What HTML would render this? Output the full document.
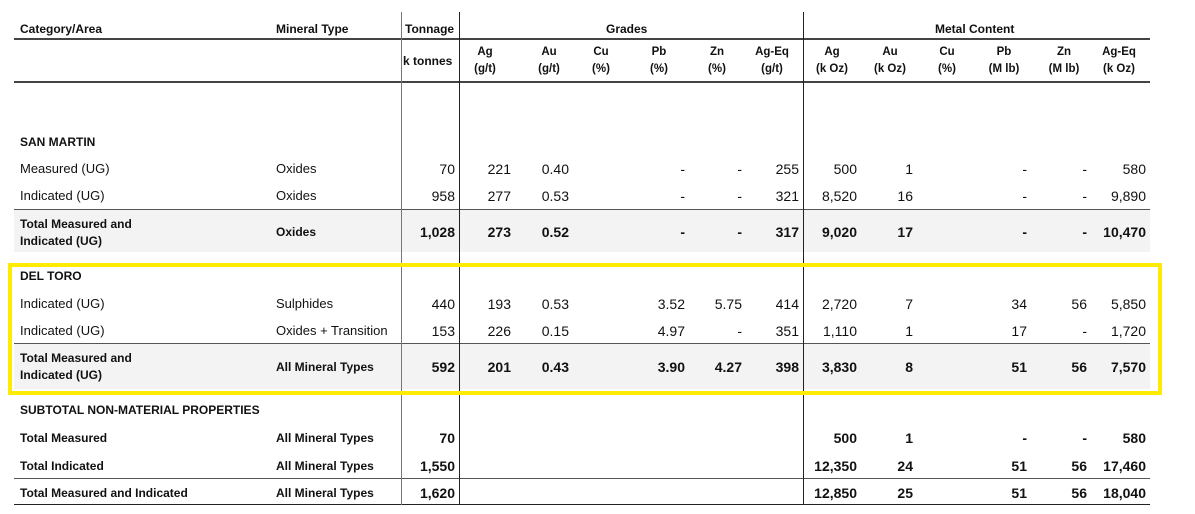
<!DOCTYPE html>
<html><head><meta charset="utf-8"><style>
body{margin:0;width:1195px;height:514px;background:#fff;position:relative;overflow:hidden;font-family:"Liberation Sans",sans-serif;color:#111}
div{position:absolute}
.t{font-size:13px;line-height:16px;white-space:nowrap}
.b{font-weight:bold}
.h{font-size:11.5px;font-weight:bold;line-height:17px;text-align:center;width:60px;white-space:nowrap}
.n{width:80px;text-align:right;font-size:14px;line-height:16px}
.hl{height:2px;background:#444;left:14px;width:1136px}
.hl1{height:1px;background:#555;left:14px;width:1136px}
.g{background:#f3f3f3;left:14px;width:1136px}
.c1{left:375px}.c2{left:431px}.c3{left:489px}.c4{left:547px}.c5{left:605px}.c6{left:662px}.c7{left:719px}
.c8{left:777px}.c9{left:833px}.c10{left:890px}.c11{left:947px}.c12{left:1007px}.c13{left:1066px}
</style></head><body>
<div class="g" style="top:210px;height:42px"></div>
<div class="g" style="top:344px;height:45px"></div>
<div class="hl" style="top:38px;left:14px;width:387px"></div>
<div class="hl" style="top:38px;left:401px;width:749px"></div>
<div class="hl" style="top:81px"></div>
<div class="hl1" style="top:209px"></div>
<div class="hl1" style="top:343px"></div>
<div class="hl1" style="top:478px"></div>
<div class="hl1" style="top:504px;background:#222"></div>
<div style="left:401px;top:12px;width:1px;height:493px;background:#777"></div>
<div style="left:459px;top:12px;width:1px;height:493px;background:#222"></div>
<div style="left:803px;top:12px;width:1px;height:493px;background:#222"></div>

<div class="t b" style="left:20px;top:21px;font-size:12px">Category/Area</div>
<div class="t b" style="left:276px;top:21px;font-size:12px">Mineral Type</div>
<div class="t b" style="left:405px;top:21px;font-size:12px">Tonnage</div>
<div class="t b" style="left:606px;top:21px;font-size:12px">Grades</div>
<div class="t b" style="left:935px;top:21px;font-size:12px">Metal Content</div>
<div class="t b" style="left:403px;top:53px;font-size:12px">k tonnes</div>
<div class="h" style="left:455px;top:44px">Ag<br>(g/t)</div>
<div class="h" style="left:519px;top:44px">Au<br>(g/t)</div>
<div class="h" style="left:571px;top:44px">Cu<br>(%)</div>
<div class="h" style="left:629px;top:44px">Pb<br>(%)</div>
<div class="h" style="left:687px;top:44px">Zn<br>(%)</div>
<div class="h" style="left:742px;top:44px">Ag-Eq<br>(g/t)</div>
<div class="h" style="left:802px;top:44px">Ag<br>(k Oz)</div>
<div class="h" style="left:860px;top:44px">Au<br>(k Oz)</div>
<div class="h" style="left:917px;top:44px">Cu<br>(%)</div>
<div class="h" style="left:974px;top:44px">Pb<br>(M lb)</div>
<div class="h" style="left:1034px;top:44px">Zn<br>(M lb)</div>
<div class="h" style="left:1089px;top:44px">Ag-Eq<br>(k Oz)</div>

<div class="t b" style="left:20px;top:134px;font-size:12px">SAN MARTIN</div>

<div class="t" style="left:20px;top:161px">Measured (UG)</div><div class="t" style="left:276px;top:161px">Oxides</div>
<div style="top:161px">
<div class="n c1">70</div><div class="n c2">221</div><div class="n c3">0.40</div><div class="n c5">-</div><div class="n c6">-</div><div class="n c7">255</div><div class="n c8">500</div><div class="n c9">1</div><div class="n c11">-</div><div class="n c12">-</div><div class="n c13">580</div></div>

<div class="t" style="left:20px;top:188px">Indicated (UG)</div><div class="t" style="left:276px;top:188px">Oxides</div>
<div style="top:188px">
<div class="n c1">958</div><div class="n c2">277</div><div class="n c3">0.53</div><div class="n c5">-</div><div class="n c6">-</div><div class="n c7">321</div><div class="n c8">8,520</div><div class="n c9">16</div><div class="n c11">-</div><div class="n c12">-</div><div class="n c13">9,890</div></div>

<div class="t b" style="left:20px;top:216px;font-size:12px;line-height:17px">Total Measured and<br>Indicated (UG)</div><div class="t b" style="left:276px;top:224px;font-size:12px">Oxides</div>
<div class="b" style="top:224px">
<div class="n c1">1,028</div><div class="n c2">273</div><div class="n c3">0.52</div><div class="n c5">-</div><div class="n c6">-</div><div class="n c7">317</div><div class="n c8">9,020</div><div class="n c9">17</div><div class="n c11">-</div><div class="n c12">-</div><div class="n c13">10,470</div></div>

<div class="t b" style="left:20px;top:268px;font-size:12px">DEL TORO</div>

<div class="t" style="left:20px;top:296px">Indicated (UG)</div><div class="t" style="left:276px;top:296px">Sulphides</div>
<div style="top:296px">
<div class="n c1">440</div><div class="n c2">193</div><div class="n c3">0.53</div><div class="n c5">3.52</div><div class="n c6">5.75</div><div class="n c7">414</div><div class="n c8">2,720</div><div class="n c9">7</div><div class="n c11">34</div><div class="n c12">56</div><div class="n c13">5,850</div></div>

<div class="t" style="left:20px;top:323px">Indicated (UG)</div><div class="t" style="left:276px;top:323px">Oxides + Transition</div>
<div style="top:323px">
<div class="n c1">153</div><div class="n c2">226</div><div class="n c3">0.15</div><div class="n c5">4.97</div><div class="n c6">-</div><div class="n c7">351</div><div class="n c8">1,110</div><div class="n c9">1</div><div class="n c11">17</div><div class="n c12">-</div><div class="n c13">1,720</div></div>

<div class="t b" style="left:20px;top:350px;font-size:12px;line-height:17px">Total Measured and<br>Indicated (UG)</div><div class="t b" style="left:276px;top:359px;font-size:12px">All Mineral Types</div>
<div class="b" style="top:359px">
<div class="n c1">592</div><div class="n c2">201</div><div class="n c3">0.43</div><div class="n c5">3.90</div><div class="n c6">4.27</div><div class="n c7">398</div><div class="n c8">3,830</div><div class="n c9">8</div><div class="n c11">51</div><div class="n c12">56</div><div class="n c13">7,570</div></div>

<div style="left:8px;top:263px;width:1146px;height:124px;border:4px solid #ffeb00"></div>

<div class="t b" style="left:20px;top:402px;font-size:12px">SUBTOTAL NON-MATERIAL PROPERTIES</div>

<div class="t b" style="left:20px;top:430px;font-size:12px">Total Measured</div><div class="t b" style="left:276px;top:430px;font-size:12px">All Mineral Types</div>
<div class="b" style="top:430px">
<div class="n c1">70</div><div class="n c8">500</div><div class="n c9">1</div><div class="n c11">-</div><div class="n c12">-</div><div class="n c13">580</div></div>

<div class="t b" style="left:20px;top:458px;font-size:12px">Total Indicated</div><div class="t b" style="left:276px;top:458px;font-size:12px">All Mineral Types</div>
<div class="b" style="top:458px">
<div class="n c1">1,550</div><div class="n c8">12,350</div><div class="n c9">24</div><div class="n c11">51</div><div class="n c12">56</div><div class="n c13">17,460</div></div>

<div class="t b" style="left:20px;top:485px;font-size:12px">Total Measured and Indicated</div><div class="t b" style="left:276px;top:485px;font-size:12px">All Mineral Types</div>
<div class="b" style="top:485px">
<div class="n c1">1,620</div><div class="n c8">12,850</div><div class="n c9">25</div><div class="n c11">51</div><div class="n c12">56</div><div class="n c13">18,040</div></div>
</body></html>
